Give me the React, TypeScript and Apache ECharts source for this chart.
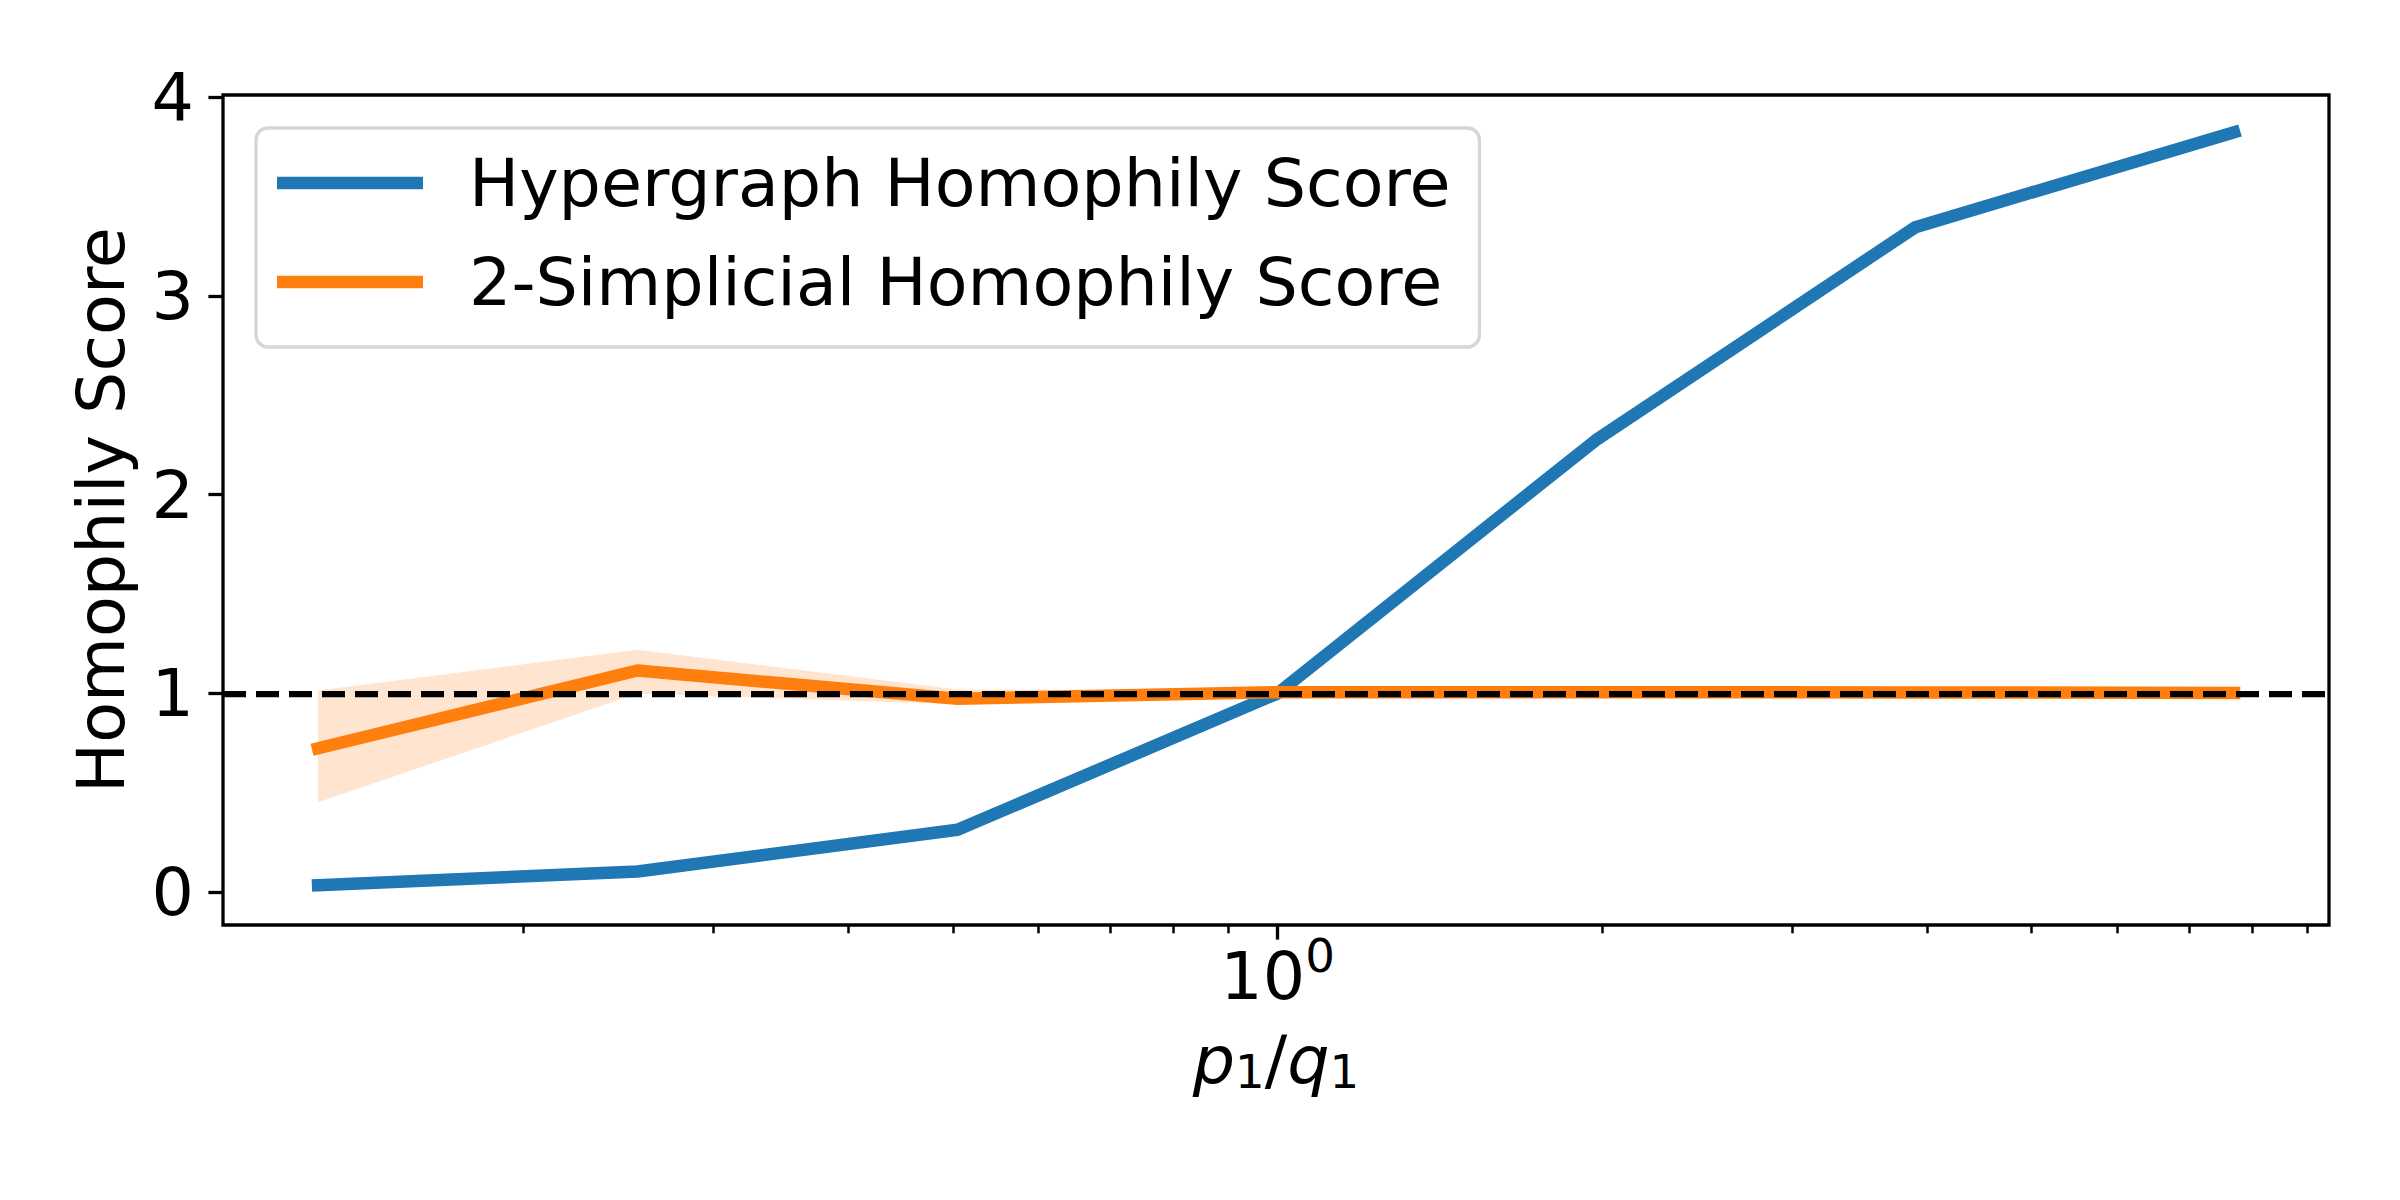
import React, { useEffect, useRef } from "react";
import * as echarts from "echarts";

// ---- data ----
const ratios = [0.129, 0.255, 0.505, 1, 1.97, 3.9, 7.7];
const hypergraphScore = [0.035, 0.104, 0.314, 1.0, 2.272, 3.345, 3.823];
const simplicialScore = [0.724, 1.115, 0.973, 1.006, 1.006, 1.005, 1.002];
const simplicialLower = [0.453, 0.999, 0.945, 0.995, 0.998, 0.998, 0.995];
const simplicialUpper = [1.015, 1.22, 1.02, 1.015, 1.012, 1.01, 1.008];
const yTickValues = [0, 1, 2, 3, 4];
const xMajorTickValues = [1];
const xMinorTickValues = [0.2, 0.3, 0.4, 0.5, 0.6, 0.7, 0.8, 0.9, 2, 3, 4, 5, 6, 7, 8, 9];
const referenceLevel = 1;
const seriesNames = ["Hypergraph Homophily Score", "2-Simplicial Homophily Score"];

const FONT = "'DejaVu Sans', sans-serif";
const FS = 66.7;

export default function App() {
  const ref = useRef<HTMLDivElement>(null);
  useEffect(() => {
    if (!ref.current) return;
    const chart = echarts.init(ref.current, undefined, { renderer: "svg" });
    const xMin = 0.1053;
    const xMax = 9.43;
    const bandData = ratios.map((x, i) => [x, simplicialLower[i], simplicialUpper[i]]);
    const option: any = {
      animation: false,
      backgroundColor: "#ffffff",
      textStyle: { fontFamily: FONT },
      grid: {
        left: 223,
        right: 71,
        top: 95,
        bottom: 275,
        show: true,
        borderColor: "#000000",
        borderWidth: 3.3,
        backgroundColor: "transparent",
      },
      legend: {
        left: 256,
        top: 128,
        orient: "vertical",
        selectedMode: false,
        icon: "rect",
        itemWidth: 146,
        itemHeight: 12.5,
        itemGap: 29,
        padding: [20, 29, 30, 21],
        backgroundColor: "rgba(255,255,255,0.8)",
        borderColor: "#d6d6d6",
        borderWidth: 3.3,
        borderRadius: 12,
        textStyle: {
          fontFamily: FONT,
          fontSize: FS,
          color: "#000000",
          lineHeight: 70,
          padding: [0, 0, 0, 41],
        },
        data: seriesNames.map((n) => ({ name: n })),
      },
      xAxis: [
        {
          type: "log",
          logBase: 10,
          min: xMin,
          max: xMax,
          position: "bottom",
          name: "{i|p}{s|1}{n|/}{i|q}{s|1}",
          nameLocation: "middle",
          nameGap: 100,
          nameTextStyle: {
            rich: {
              i: { fontFamily: FONT, fontSize: FS, fontStyle: "italic", lineHeight: 70, color: "#000" },
              n: { fontFamily: FONT, fontSize: FS, lineHeight: 70, color: "#000" },
              s: { fontFamily: FONT, fontSize: 46.7, lineHeight: 29, verticalAlign: "bottom", color: "#000" },
            },
          },
          axisLine: { show: false, onZero: false },
          splitLine: { show: false },
          minorTick: { show: false },
          axisTick: {
            show: true,
            customValues: xMajorTickValues,
            length: 14.6,
            lineStyle: { color: "#000", width: 3.3 },
          },
          axisLabel: {
            customValues: xMajorTickValues,
            margin: 16,
            formatter: () => "{a|10}{b|0}",
            rich: {
              a: { fontFamily: FONT, fontSize: FS, lineHeight: 70, color: "#000" },
              b: { fontFamily: FONT, fontSize: 46.7, lineHeight: 40, padding: [0, 0, 40, 0], color: "#000" },
            },
          },
        },
        {
          type: "log",
          logBase: 10,
          min: xMin,
          max: xMax,
          position: "bottom",
          axisLine: { show: false, onZero: false },
          splitLine: { show: false },
          axisLabel: { show: false },
          axisTick: {
            show: true,
            customValues: xMinorTickValues,
            length: 8.3,
            lineStyle: { color: "#000", width: 2.5 },
          },
        },
      ],
      yAxis: {
        type: "value",
        min: -0.165,
        max: 4.01,
        name: "Homophily Score",
        nameLocation: "middle",
        nameRotate: 90,
        nameGap: 89,
        nameTextStyle: { fontFamily: FONT, fontSize: FS, color: "#000" },
        axisLine: { show: false },
        splitLine: { show: false },
        axisTick: {
          show: true,
          customValues: yTickValues,
          length: 14.6,
          lineStyle: { color: "#000", width: 3.3 },
        },
        axisLabel: {
          customValues: yTickValues,
          margin: 29,
          fontFamily: FONT,
          fontSize: FS,
          color: "#000",
        },
      },
      series: [
        {
          name: seriesNames[0],
          type: "line",
          color: "#1f77b4",
          data: ratios.map((x, i) => [x, hypergraphScore[i]]),
          symbol: "none",
          lineStyle: { width: 12.5, color: "#1f77b4", cap: "square", join: "round" },
          z: 2,
        },
        {
          name: "band",
          type: "custom",
          data: bandData,
          encode: { x: 0, y: [1, 2] },
          silent: true,
          z: 3,
          renderItem: (params: any, api: any) => {
            if (params.dataIndex !== 0) return null;
            const upper = bandData.map((d) => api.coord([d[0], d[2]]));
            const lower = bandData.map((d) => api.coord([d[0], d[1]])).reverse();
            return {
              type: "polygon",
              shape: { points: upper.concat(lower) },
              style: { fill: "rgba(255,127,14,0.2)", stroke: "none" },
            };
          },
        },
        {
          name: seriesNames[1],
          type: "line",
          color: "#ff7f0e",
          data: ratios.map((x, i) => [x, simplicialScore[i]]),
          symbol: "none",
          lineStyle: { width: 12.5, color: "#ff7f0e", cap: "square", join: "round" },
          z: 4,
        },
        {
          name: "reference",
          type: "line",
          data: [],
          symbol: "none",
          z: 6,
          markLine: {
            silent: true,
            symbol: "none",
            label: { show: false },
            lineStyle: { color: "#000", width: 6.25, type: [23, 10] },
            data: [{ yAxis: referenceLevel }],
            z: 6,
          },
        },
      ],
    };
    chart.setOption(option);
    return () => chart.dispose();
  }, []);
  return (
    <div
      ref={ref}
      style={{ position: "fixed", left: 0, top: 0, width: 2400, height: 1200, background: "#fff" }}
    />
  );
}
